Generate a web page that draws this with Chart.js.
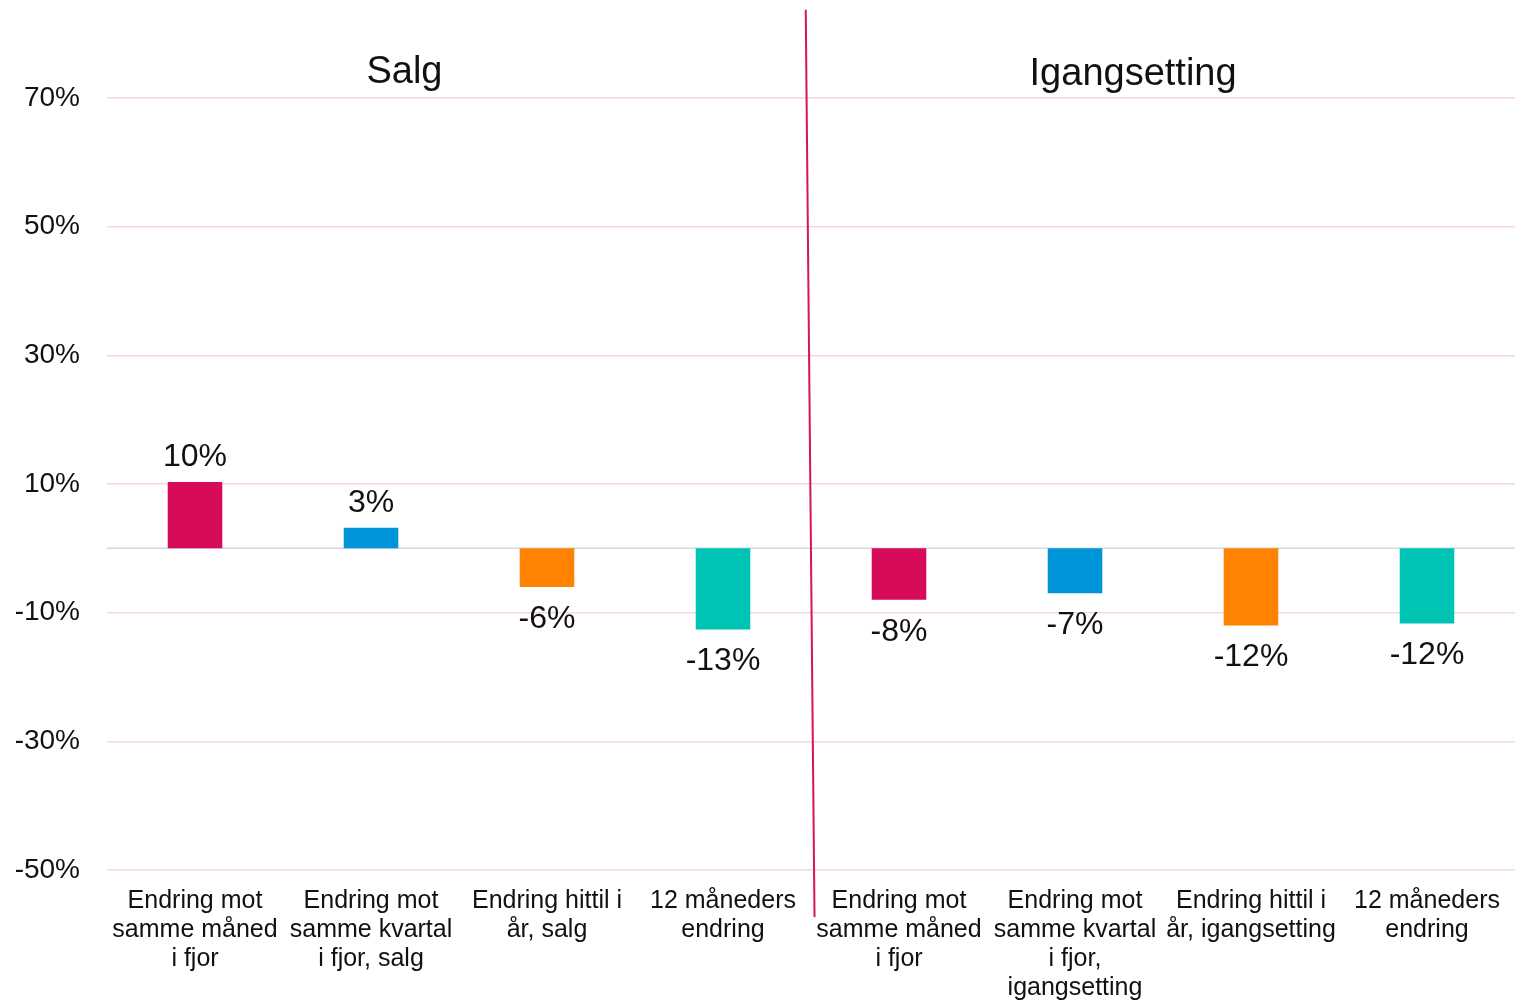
<!DOCTYPE html>
<html>
<head>
<meta charset="utf-8">
<script src="https://cdn.jsdelivr.net/npm/chart.js@4.4.1/dist/chart.umd.min.js"></script>
<style>
  html, body { margin: 0; padding: 0; background: #fff; }
  #wrap { width: 1515px; height: 1002px; }
</style>
</head>
<body>
<div id="wrap"><canvas id="chart"></canvas></div>
<script>
const categories = [
  ["Endring mot", "samme måned", "i fjor"],
  ["Endring mot", "samme kvartal", "i fjor, salg"],
  ["Endring hittil i", "år, salg"],
  ["12 måneders", "endring"],
  ["Endring mot", "samme måned", "i fjor"],
  ["Endring mot", "samme kvartal", "i fjor,", "igangsetting"],
  ["Endring hittil i", "år, igangsetting"],
  ["12 måneders", "endring"]
];
const changes = [10.3, 3.2, -6, -12.6, -8, -7, -12, -11.7];
const barColors = ["#d80b5a", "#0095d9", "#ff8200", "#00c4b3", "#d80b5a", "#0095d9", "#ff8200", "#00c4b3"];
const yTicks = [-50, -30, -10, 10, 30, 50, 70];
const groupTitles = ["Salg", "Igangsetting"];
const groupTitlePos = [[1.19, 74], [5.33, 73.7]];
const divider = [[3.47, 83.7], [3.52, -57.3]];

const FONT = "'Liberation Sans', Arial, sans-serif";

// labels on bars, group titles and the divider line
const extras = {
  id: "extras",
  afterDatasetsDraw(chart) {
    const ctx = chart.ctx;
    const meta = chart.getDatasetMeta(0);
    ctx.save();
    ctx.font = "32px " + FONT;
    ctx.fillStyle = "#111";
    ctx.textAlign = "center";
    ctx.textBaseline = "middle";
    meta.data.forEach((bar, i) => {
      const v = changes[i];
      const y = v >= 0 ? bar.y - 25 : bar.y + 32;
      ctx.fillText(Math.round(v) + "%", bar.x, y);
    });
    ctx.restore();
  },
  afterDraw(chart) {
    const ctx = chart.ctx;
    const x = chart.scales.x, y = chart.scales.y;
    ctx.save();
    ctx.font = "38px " + FONT;
    ctx.fillStyle = "#111";
    ctx.textAlign = "center";
    ctx.textBaseline = "middle";
    groupTitles.forEach((t, i) => {
      ctx.fillText(t, x.getPixelForValue(groupTitlePos[i][0]), y.getPixelForValue(groupTitlePos[i][1]));
    });
    ctx.strokeStyle = "#d9145a";
    ctx.lineWidth = 2;
    ctx.beginPath();
    ctx.moveTo(x.getPixelForValue(divider[0][0]), y.getPixelForValue(divider[0][1]));
    ctx.lineTo(x.getPixelForValue(divider[1][0]), y.getPixelForValue(divider[1][1]));
    ctx.stroke();
    ctx.restore();
  }
};

new Chart(document.getElementById("chart"), {
  type: "bar",
  data: {
    labels: categories,
    datasets: [
      {
        data: changes,
        backgroundColor: barColors,
        borderWidth: 0,
        barPercentage: 0.31,
        categoryPercentage: 1
      }
    ]
  },
  options: {
    responsive: true,
    maintainAspectRatio: false,
    animation: false,
    layout: { padding: { top: 98, left: 14, right: 0, bottom: 0 } },
    plugins: { legend: { display: false }, tooltip: { enabled: false } },
    scales: {
      x: {
        grid: { display: false },
        border: { display: false },
        afterFit: (scale) => {
          scale.paddingLeft = 0;
          scale.paddingRight = 0;
          scale.height = 132;
        },
        ticks: {
          color: "#111",
          font: { family: FONT, size: 25, lineHeight: 1.16 },
          maxRotation: 0,
          autoSkip: false,
          padding: 9
        }
      },
      y: {
        min: -50,
        max: 70,
        afterBuildTicks: (axis) => {
          axis.ticks = yTicks.map((v) => ({ value: v }));
        },
        afterFit: (scale) => {
          scale.width = 93;
        },
        border: { display: false },
        grid: {
          drawTicks: false,
          color: (c) => (c.tick && c.tick.value === 0 ? "#d3d8e0" : "#f6d6e4"),
          lineWidth: 1.5
        },
        ticks: {
          color: "#111",
          font: { family: FONT, size: 28 },
          padding: 27,
          callback: (v) => v + "%"
        }
      }
    }
  },
  plugins: [
    extras,
    {
      id: "zeroLine",
      beforeDatasetsDraw(chart) {
        const ctx = chart.ctx, area = chart.chartArea;
        const y0 = chart.scales.y.getPixelForValue(0);
        ctx.save();
        ctx.strokeStyle = "#d3d8e0";
        ctx.lineWidth = 1.5;
        ctx.beginPath();
        ctx.moveTo(area.left, y0);
        ctx.lineTo(area.right, y0);
        ctx.stroke();
        ctx.restore();
      }
    }
  ]
});
</script>
</body>
</html>
